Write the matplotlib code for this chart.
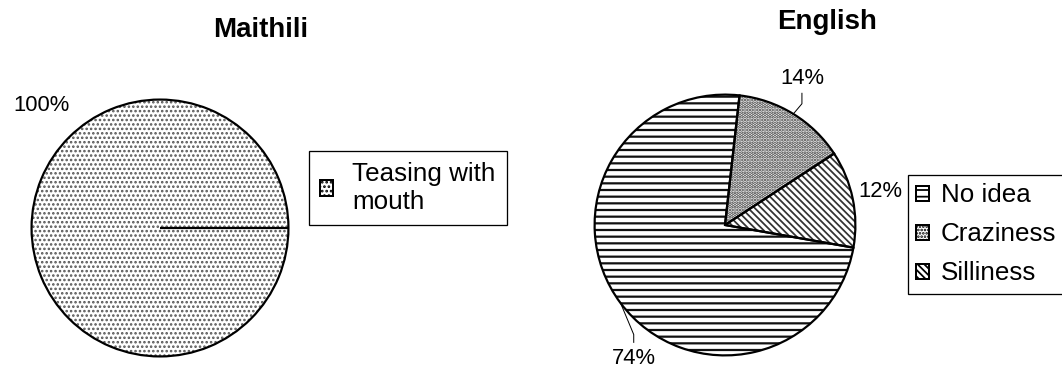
import matplotlib
matplotlib.use("Agg")
import matplotlib.pyplot as plt
from matplotlib.patches import Patch
import numpy as np

plt.rcParams['font.family'] = ['Liberation Sans', 'DejaVu Sans']
plt.rcParams['hatch.linewidth'] = 1.6

DPI = 80
W, H = 1062, 374


def pt(pixels):
    """Convert a size in pixels to points at the figure dpi."""
    return pixels * 72 / DPI


# Data
maithili_labels = ['Teasing with\nmouth']
maithili_values = [100]
maithili_hatches = ['...']

english_labels = ['No idea', 'Craziness', 'Silliness']
english_values = [74, 14, 12]
english_hatches = ['--', '....', '\\\\\\\\']

hatch_widths = {'...': 1.5, '--': 2.0, '....': 2.2, '\\\\\\\\': 1.6}
hatch_colors = {'...': '#555555', '--': '#111111', '....': '#3a3a3a',
                '\\\\\\\\': '#333333'}

fig = plt.figure(figsize=(W / DPI, H / DPI), dpi=DPI)
fig.patch.set_facecolor('white')


def pie_axes(cx, cy, r):
    ax = fig.add_axes([(cx - r) / W, (H - cy - r) / H, 2 * r / W, 2 * r / H])
    return ax


def draw_pie(ax, values, hatches, startangle):
    # hatch layer, one style per wedge
    wedges, _ = ax.pie(values, startangle=startangle, counterclock=False,
                       radius=1.0, wedgeprops=dict(facecolor='white', linewidth=0))
    for w, h in zip(wedges, hatches):
        w.set_hatch(h)
        w.set_edgecolor(hatch_colors[h])
        w.set_linewidth(0)
        if hasattr(w, 'set_hatch_linewidth'):
            w.set_hatch_linewidth(hatch_widths[h])
    # outline layer
    ax.pie(values, startangle=startangle, counterclock=False, radius=1.0,
           wedgeprops=dict(fill=False, edgecolor='black', linewidth=pt(2.2)))
    ax.set_xlim(-1.02, 1.02)
    ax.set_ylim(-1.02, 1.02)
    ax.set_aspect('equal')
    ax.axis('off')
    return wedges


def legend_handles(hatches):
    hs = []
    for h in hatches:
        p = Patch(facecolor='white', edgecolor='black', hatch=h, linewidth=pt(2))
        if hasattr(p, 'set_hatch_linewidth'):
            p.set_hatch_linewidth(hatch_widths[h])
        hs.append(p)
    return hs


# ---- Maithili ----
axL = pie_axes(160, 228, 131)
wL = draw_pie(axL, maithili_values, maithili_hatches, startangle=0)
# a single full slice still shows its start radius
a0 = np.deg2rad(wL[0].theta1)
axL.plot([0, np.cos(a0)], [0, np.sin(a0)], color='black', lw=pt(2.2),
         solid_capstyle='butt')
axL.text(-0.92, 0.95, f'{maithili_values[0]}%', ha='center', va='center',
         fontsize=pt(22), clip_on=False)

fig.text(261 / W, 1 - 30 / H, 'Maithili', ha='center', va='center',
         fontsize=pt(27.7), fontweight='bold')

legL = fig.legend(
    handles=legend_handles(maithili_hatches),
    labels=maithili_labels, loc='upper left',
    bbox_to_anchor=(309 / W, 1 - 151 / H), borderaxespad=0,
    fontsize=pt(26), fancybox=False, edgecolor='black', framealpha=1,
    handlelength=0.5, handleheight=0.6, handletextpad=0.75, borderpad=0.42)
legL.get_frame().set_linewidth(pt(1.3))

# ---- English ----
axR = pie_axes(725, 225, 133)
wR = draw_pie(axR, english_values, english_hatches, startangle=-10)

label_pos = {
    'No idea': (-0.70, -1.02),
    'Craziness': (0.59, 1.12),
    'Silliness': (1.19, 0.26),
}
leader = {
    'No idea': [(-0.70, -0.84), (-0.70, -0.90)],
    'Craziness': [(0.59, 0.93), (0.59, 1.01)],
}
for w, lab, val in zip(wR, english_labels, english_values):
    mid = np.deg2rad((w.theta1 + w.theta2) / 2)
    x, y = label_pos[lab]
    axR.text(x, y, f'{val}%', ha='center', va='center', fontsize=pt(22),
             clip_on=False)
    if lab in leader:
        pts = [(np.cos(mid), np.sin(mid))] + leader[lab]
        axR.plot([p[0] for p in pts], [p[1] for p in pts], color='black',
                 lw=pt(1), clip_on=False)

fig.text(827 / W, 1 - 22 / H, 'English', ha='center', va='center',
         fontsize=pt(27.7), fontweight='bold')

legR = fig.legend(
    handles=legend_handles(english_hatches),
    labels=english_labels, loc='upper left',
    bbox_to_anchor=(908 / W, 1 - 175 / H), borderaxespad=0,
    fontsize=pt(26), fancybox=False, edgecolor='black', framealpha=1,
    handlelength=0.5, handleheight=0.5, handletextpad=0.45, borderpad=0.32,
    labelspacing=0.58)
legR.get_frame().set_linewidth(pt(1.3))

fig.savefig('out.png', dpi=DPI, facecolor='white')
